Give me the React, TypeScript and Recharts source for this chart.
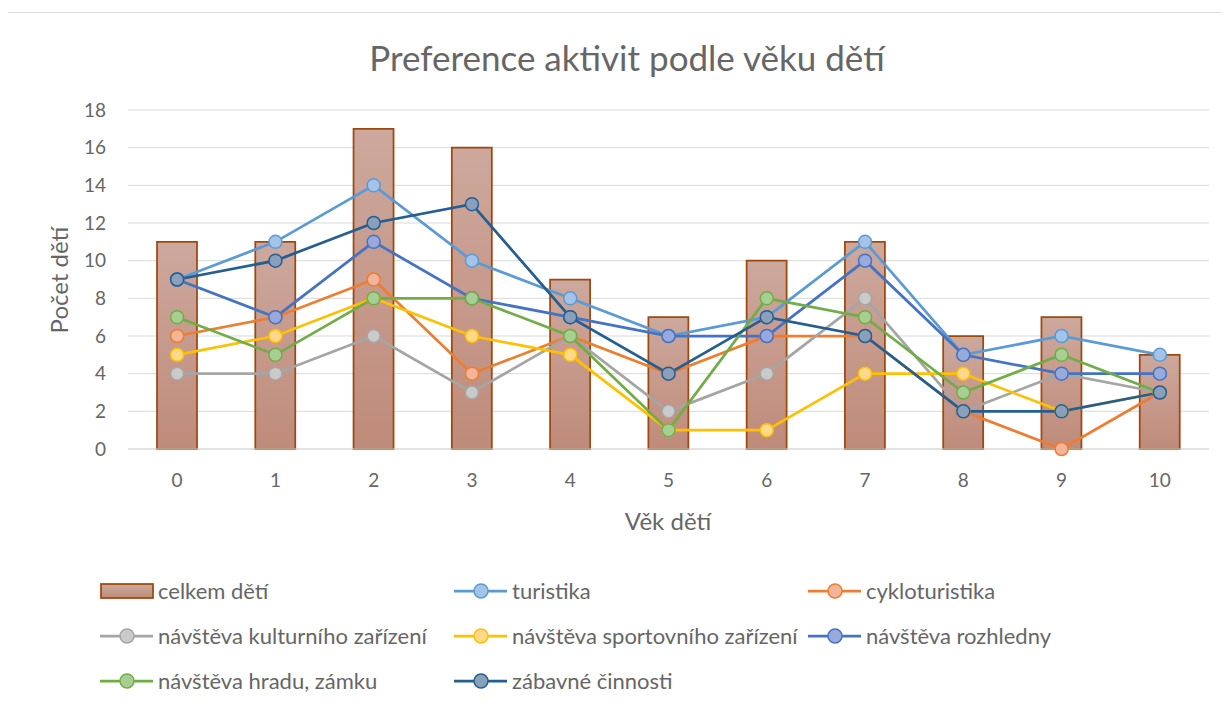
import React from "react";
import {
  Bar,
  CartesianGrid,
  ComposedChart,
  Legend,
  Line,
  XAxis,
  YAxis,
} from "recharts";

// age of the child (x axis)
const ages = [0, 1, 2, 3, 4, 5, 6, 7, 8, 9, 10];

// bars
const celkemDeti = [11, 11, 17, 16, 9, 7, 10, 11, 6, 7, 5];

// lines
const turistika = [9, 11, 14, 10, 8, 6, 7, 11, 5, 6, 5];
const cykloturistika = [6, 7, 9, 4, 6, 4, 6, 6, 2, 0, 3];
const kulturni = [4, 4, 6, 3, 6, 2, 4, 8, 2, 4, 3];
const sportovni = [5, 6, 8, 6, 5, 1, 1, 4, 4, 2, 3];
const rozhledna = [9, 7, 11, 8, 7, 6, 6, 10, 5, 4, 4];
const hrad = [7, 5, 8, 8, 6, 1, 8, 7, 3, 5, 3];
const zabavne = [9, 10, 12, 13, 7, 4, 7, 6, 2, 2, 3];

const yTicks = [0, 2, 4, 6, 8, 10, 12, 14, 16, 18];

const lineSeries = [
  { key: "turistika", name: "turistika", values: turistika, stroke: "#5B9BD5", fill: "#A3C4E8" },
  { key: "cyklo", name: "cykloturistika", values: cykloturistika, stroke: "#ED7D31", fill: "#F4B49A" },
  { key: "kultura", name: "návštěva kulturního zařízení", values: kulturni, stroke: "#A5A5A5", fill: "#CACACA" },
  { key: "sport", name: "návštěva sportovního zařízení", values: sportovni, stroke: "#FFC000", fill: "#FFD98A" },
  { key: "rozhledna", name: "návštěva rozhledny", values: rozhledna, stroke: "#4472C4", fill: "#98A9DC" },
  { key: "hrad", name: "návštěva hradu, zámku", values: hrad, stroke: "#70AD47", fill: "#A8CF93" },
  { key: "zabava", name: "zábavné činnosti", values: zabavne, stroke: "#255E91", fill: "#8A9FBA" },
];

const data = ages.map((age, i) => {
  const row: Record<string, number> = { age, celkem: celkemDeti[i] };
  lineSeries.forEach((s) => {
    row[s.key] = s.values[i];
  });
  return row;
});

const FONT = "Lato, 'Noto Sans', sans-serif";
const TEXT = "#666666";
const BAR_STROKE = "#9E480E";

function LegendBox() {
  const items = [{ key: "celkem", name: "celkem dětí", stroke: BAR_STROKE, fill: "" }, ...lineSeries];
  return (
    <div
      style={{
        display: "grid",
        gridTemplateColumns: "354px 354px 354px",
        gridAutoRows: "45px",
        fontFamily: FONT,
        fontSize: 22,
        color: TEXT,
      }}
    >
      {items.map((it) => (
        <div key={it.key} style={{ display: "flex", alignItems: "center", whiteSpace: "nowrap" }}>
          <svg width={56} height={20} style={{ marginRight: 2 }}>
            {it.key === "celkem" ? (
              <rect x={1} y={3} width={52} height={14} fill="url(#legendGrad)" stroke={BAR_STROKE} strokeWidth={1.75} />
            ) : (
              <>
                <line x1={0} y1={10} x2={53} y2={10} stroke={it.stroke} strokeWidth={2.75} />
                <circle cx={27} cy={10} r={7} fill={it.fill} stroke={it.stroke} strokeWidth={1.5} />
              </>
            )}
            <defs>
              <linearGradient id="legendGrad" x1="0" y1="0" x2="0" y2="1">
                <stop offset="0%" stopColor="#CDA89D" />
                <stop offset="100%" stopColor="#BF8B7A" />
              </linearGradient>
            </defs>
          </svg>
          <span>{it.name}</span>
        </div>
      ))}
    </div>
  );
}

export default function App() {
  return (
    <div
      style={{
        position: "relative",
        width: 1221,
        height: 696,
        margin: "4px 0 0 -1px",
        borderLeft: "1px solid #d9d9d9",
        borderTop: "1px solid #d9d9d9",
        background: "#fff",
        fontFamily: FONT,
      }}
    >
      <div
        style={{
          position: "absolute",
          left: 0,
          width: 1238,
          top: 23,
          textAlign: "center",
          fontSize: 35,
          color: TEXT,
          whiteSpace: "nowrap",
        }}
      >
        Preference aktivit podle věku dětí
      </div>
      <div
        style={{
          position: "absolute",
          left: 50,
          top: 267,
          transform: "translate(-50%, -50%) rotate(-90deg)",
          fontSize: 24,
          color: TEXT,
          whiteSpace: "nowrap",
        }}
      >
        Počet dětí
      </div>
      <div
        style={{
          position: "absolute",
          left: 660,
          top: 507,
          transform: "translate(-50%, -50%)",
          fontSize: 24,
          color: TEXT,
          whiteSpace: "nowrap",
        }}
      >
        Věk dětí
      </div>
      <ComposedChart
        width={1221}
        height={696}
        data={data}
        margin={{ top: 97, right: 20, bottom: 230, left: 0 }}
        barCategoryGap={0}
      >
        <defs>
          <linearGradient id="barGrad" x1="0" y1="0" x2="0" y2="1">
            <stop offset="0%" stopColor="#CDA89D" />
            <stop offset="100%" stopColor="#BF8B7A" />
          </linearGradient>
        </defs>
        <CartesianGrid vertical={false} stroke="#d9d9d9" strokeWidth={1} />
        <XAxis
          dataKey="age"
          type="category"
          height={30}
          tickLine={false}
          tickSize={0}
          tickMargin={25}
          axisLine={{ stroke: "#d9d9d9", strokeWidth: 1 }}
          tick={{ fill: TEXT, fontSize: 19, fontFamily: FONT }}
        />
        <YAxis
          width={120}
          domain={[0, 18]}
          ticks={yTicks}
          interval={0}
          axisLine={false}
          tickLine={false}
          tickSize={0}
          tickMargin={22}
          tick={{ fill: TEXT, fontSize: 19, fontFamily: FONT }}
        />
        <Legend
          layout="horizontal"
          verticalAlign="middle"
          align="center"
          wrapperStyle={{ left: 92, top: 555, width: 1100 }}
          content={() => <LegendBox />}
        />
        <Bar
          dataKey="celkem"
          name="celkem dětí"
          barSize={40}
          fill="url(#barGrad)"
          stroke={BAR_STROKE}
          strokeWidth={1.75}
          isAnimationActive={false}
        />
        {lineSeries.map((s) => (
          <Line
            key={s.key}
            type="linear"
            dataKey={s.key}
            name={s.name}
            stroke={s.stroke}
            strokeWidth={2.75}
            dot={{ r: 6.5, fill: s.fill, stroke: s.stroke, strokeWidth: 1.5 }}
            activeDot={false}
            isAnimationActive={false}
          />
        ))}
      </ComposedChart>
    </div>
  );
}
